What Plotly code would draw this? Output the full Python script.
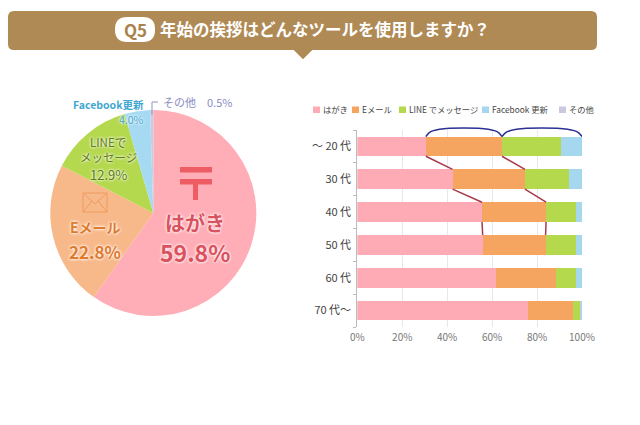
import plotly.graph_objects as go

# pie chart
pie_labels = ['はがき', 'Eメール', 'LINEでメッセージ', 'Facebook更新', 'その他']
pie_values = [59.8, 22.8, 12.9, 4.0, 0.5]
pie_colors = ['#FFADB6', '#F8B98A', '#B4D84E', '#A6DAF2', '#CBCBE4']

# stacked bars by age group
ages = ['～ 20 代', '30 代', '40 代', '50 代', '60 代', '70 代～']
hagaki = [30.5, 42.4, 55.5, 55.8, 61.6, 75.8]
email = [33.9, 32.2, 28.5, 28.0, 26.8, 20.3]
line_msg = [26.1, 19.5, 13.2, 13.4, 8.8, 3.3]
facebook = [9.5, 5.9, 2.8, 2.8, 2.8, 0.3]
other = [0.0, 0.0, 0.0, 0.0, 0.0, 0.3]
series = [hagaki, email, line_msg, facebook, other]
bar_colors = ['#FFABB5', '#F5A55F', '#B5D94C', '#A5D8EE', '#C9C9E0']
bar_names = ['はがき', 'Eメール', 'LINE でメッセージ', 'Facebook 更新', 'その他']
x_ticks = [0, 20, 40, 60, 80, 100]

W, H = 640, 425
FONT = 'Noto Sans CJK JP'
BAR_W = 0.6


def px(x):
    return x / W


def py(y):
    return 1 - y / H


def label(x, y, text, size, color, bold=False, anchor='center', halo=True):
    if bold:
        text = f'<b>{text}</b>'
    return dict(x=px(x), y=py(y), xref='paper', yref='paper', text=text, showarrow=False,
                xanchor=anchor, yanchor='middle', borderpad=0,
                font=dict(family=FONT, size=size, color=color,
                          shadow='0 0 3px white, 0 0 3px white' if halo else 'none'))


def box(x0, y0, x1, y1, fill, line=None, width=1):
    return dict(type='rect', xref='paper', yref='paper', layer='above',
                x0=px(x0), x1=px(x1), y0=py(y0), y1=py(y1), fillcolor=fill,
                line=dict(color=line, width=width) if line else dict(width=0))


def seg(points, color, width=1, fill=None):
    path = 'M' + ' L'.join(f'{px(a):.5f},{py(b):.5f}' for a, b in points)
    if fill:
        path += ' Z'
    return dict(type='path', xref='paper', yref='paper', layer='above', path=path,
                fillcolor=fill, line=dict(color=color, width=width))


def rounded(x0, y0, x1, y1, r, fill):
    p = (f'M{px(x0 + r)},{py(y0)} L{px(x1 - r)},{py(y0)} Q{px(x1)},{py(y0)} {px(x1)},{py(y0 + r)} '
         f'L{px(x1)},{py(y1 - r)} Q{px(x1)},{py(y1)} {px(x1 - r)},{py(y1)} '
         f'L{px(x0 + r)},{py(y1)} Q{px(x0)},{py(y1)} {px(x0)},{py(y1 - r)} '
         f'L{px(x0)},{py(y0 + r)} Q{px(x0)},{py(y0)} {px(x0 + r)},{py(y0)} Z')
    return dict(type='path', xref='paper', yref='paper', layer='above', path=p,
                fillcolor=fill, line=dict(width=0))


fig = go.Figure()

fig.add_trace(go.Pie(
    labels=pie_labels, values=pie_values, sort=False, direction='clockwise', rotation=0,
    marker=dict(colors=pie_colors, line=dict(width=0)), textinfo='none', hoverinfo='label+percent',
    showlegend=False,
    domain=dict(x=[px(50.3), px(256.3)], y=[py(316), py(110)]),
))

for name, vals, color in zip(bar_names, series, bar_colors):
    fig.add_trace(go.Bar(
        x=vals, y=list(range(len(ages))), orientation='h', name=name, width=BAR_W,
        marker=dict(color=color, line=dict(width=0)), showlegend=False,
    ))

# red connectors between the first bars
left = hagaki
mid = [a + b for a, b in zip(hagaki, email)]
for edge in (left, mid):
    for i in range(3):
        fig.add_trace(go.Scatter(
            x=[edge[i], edge[i + 1]], y=[i + BAR_W / 2, i + 1 - BAR_W / 2], mode='lines',
            line=dict(color='#A63A48', width=1.5), hoverinfo='skip', showlegend=False,
        ))

# blue braces over the top bar, on hidden axes that reach above the plot so they are not clipped
fractions = [0, 0.05, 0.18, 0.5, 0.82, 0.95, 1]
rises = [0, 0.13, 0.22, 0.26, 0.22, 0.13, 0]
for a, b in ((left[0], mid[0]), (mid[0], 100)):
    fig.add_trace(go.Scatter(
        x=[a + f * (b - a) for f in fractions], y=[-BAR_W / 2 - r for r in rises], mode='lines',
        xaxis='x2', yaxis='y2', line=dict(color='#2A3192', width=1.5, shape='spline', smoothing=0.8),
        hoverinfo='skip', showlegend=False,
    ))

shapes = [
    rounded(8, 11, 597, 50, 6, '#B08A55'),
    seg([(294, 50), (312, 50), (303, 59)], '#B08A55', 0.5, '#B08A55'),
    rounded(115, 17, 155, 42, 12, 'white'),
    # post mark
    box(180, 167, 212, 172.5, '#EE5D63'),
    box(180, 179, 212, 184.5, '#EE5D63'),
    box(193, 184, 198, 200, '#EE5D63'),
    # envelope
    box(83, 193, 107, 212, 'rgba(0,0,0,0)', '#EE9A5C', 1),
    seg([(83, 193), (95, 204), (107, 193)], '#EE9A5C', 1),
    seg([(83, 212), (92, 201)], '#EE9A5C', 1),
    seg([(107, 212), (98, 201)], '#EE9A5C', 1),
    # leader of the smallest slice
    seg([(158, 102), (152, 102), (152, 115)], '#8F97B8', 1),
]

annotations = [
    label(135, 29.5, 'Q5', 17, '#A9814A', True, halo=False),
    label(325, 29, '年始の挨拶はどんなツールを使用しますか？', 16.5, 'white', True, halo=False),
    label(195, 223, 'はがき', 20, '#D9525E', True),
    label(195, 252, '59.8%', 23, '#D9525E', True),
    label(95, 227, 'Eメール', 14, '#E07A2E', True),
    label(95, 251, '22.8%', 17, '#E07A2E', True),
    label(108, 142, 'LINEで', 11.5, '#5F7C18'),
    label(108, 157, 'メッセージ', 11.5, '#5F7C18'),
    label(108, 174, '12.9%', 13, '#5F7C18'),
    label(108, 104, 'Facebook更新', 10.5, '#3FA7CF', True),
    label(131, 119, '4.0%', 10.5, '#3FA7CF'),
    label(197.5, 102, 'その他　0.5%', 11, '#8C8CC2'),
]

# legend row above the bars
swatches = [313, 352, 399, 482, 559]
for sx, name, color in zip(swatches, bar_names, bar_colors):
    shapes.append(box(sx, 106.5, sx + 7, 113, color))
    annotations.append(label(sx + 9, 109.5, name, 8.3, '#444444', anchor='left', halo=False))

fig.update_layout(
    width=W, height=H, margin=dict(l=0, r=0, t=0, b=0, autoexpand=False), barmode='stack', bargap=0.4,
    paper_bgcolor='white', plot_bgcolor='rgba(0,0,0,0)', showlegend=False,
    xaxis=dict(domain=[px(357.3), px(582)], range=[0, 100], tickvals=x_ticks,
               ticktext=[f'{t}%' for t in x_ticks], showgrid=True, gridcolor='#E8E8E8', gridwidth=1,
               zeroline=False, ticks='', showline=False, ticklabelstandoff=3,
               tickfont=dict(family=FONT, size=10, color='#777777')),
    yaxis=dict(domain=[py(327), py(130)], range=[5.5, -0.5], tickvals=list(range(len(ages))),
               ticktext=ages, showgrid=False, zeroline=False, ticks='', showline=True,
               linecolor='#BBBBBB', linewidth=1, ticklabelstandoff=3,
               minor=dict(tickvals=[-0.5, 0.5, 1.5, 2.5, 3.5, 4.5, 5.5], ticks='outside', ticklen=3,
                          tickcolor='#BBBBBB'),
               tickfont=dict(family=FONT, size=11, color='#444444')),
    xaxis2=dict(domain=[px(357.3), px(582)], range=[0, 100], visible=False, anchor='y2'),
    yaxis2=dict(domain=[py(327), py(120.15)], range=[5.5, -0.8], visible=False, anchor='x2'),
    shapes=shapes, annotations=annotations,
)

fig.write_html('out.html', config=dict(displayModeBar=False),
               post_script="document.body.style.margin='0';")
